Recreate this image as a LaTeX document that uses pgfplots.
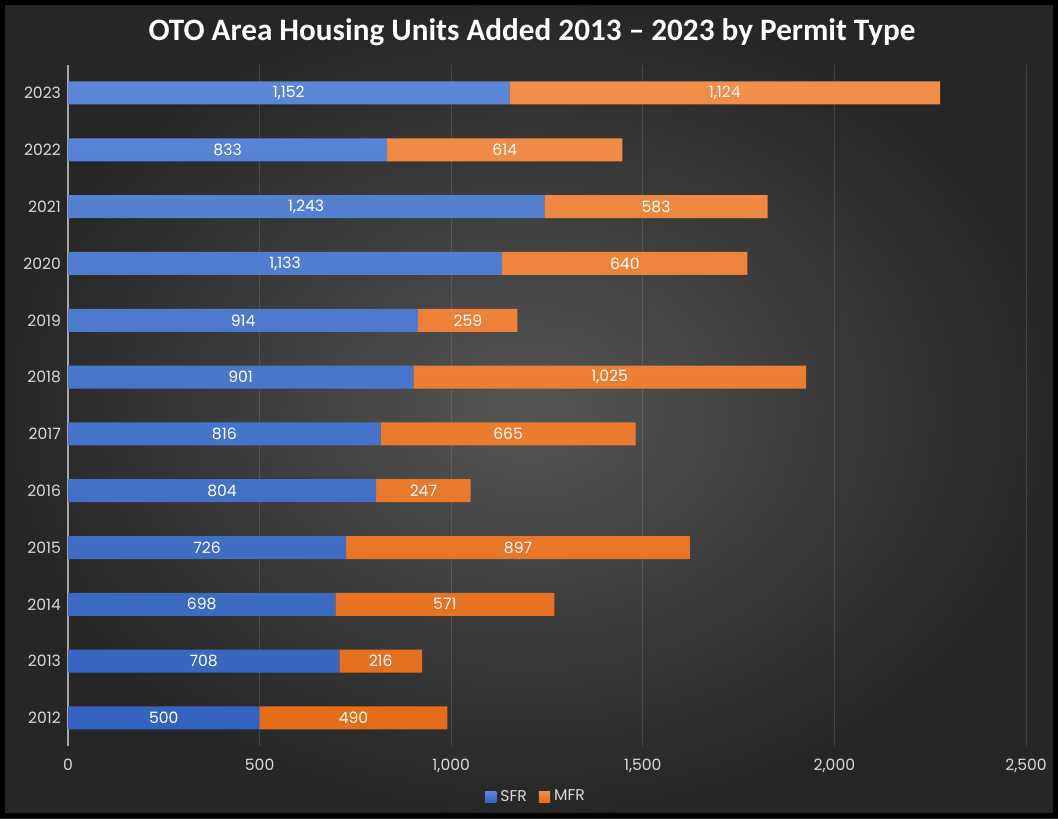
\documentclass[border=0pt]{standalone}
\usepackage{pgfplots}
\pgfplotsset{compat=1.18}
\usepackage{fontspec}
\setmainfont{Poppins}
\newfontfamily\titlefont{Carlito}
\definecolor{sfrtop}{HTML}{5B87D6}
\definecolor{sfrbot}{HTML}{3463BF}
\definecolor{mfrtop}{HTML}{F28E4A}
\definecolor{mfrbot}{HTML}{E56C18}
\definecolor{bgin}{HTML}{555555}
\definecolor{bgout}{HTML}{262626}
\definecolor{lbl}{HTML}{D9D9D9}
\begin{document}
\begin{tikzpicture}[x=1pt,y=1pt]
\shade[inner color=bgin, outer color=bgout] (0,0) rectangle (529,409);
\draw[black, line width=2.5pt] (1.25,1.25) rectangle (527.75,407.75);
\node[font=\titlefont\bfseries\fontsize{15.6}{18}\selectfont, text=white] at (266,393) {OTO Area Housing Units Added 2013 – 2023 by Permit Type};
\begin{axis}[
  at={(34pt,35.8pt)}, anchor=south west,
  scale only axis, width=479pt, height=340.9pt,
  xbar stacked, bar width=11.5pt,
  xmin=0, xmax=2500, ymin=-0.5, ymax=11.5,
  ytick={0,...,11},
  yticklabels={2012,2013,2014,2015,2016,2017,2018,2019,2020,2021,2022,2023},
  xtick={0,500,1000,1500,2000,2500},
  /pgf/number format/.cd, 1000 sep={,}, assume math mode=true, fixed, precision=0,
  /pgfplots/.cd,
  xmajorgrids, grid style={white, opacity=0.12, line width=0.4pt},
  axis y line*=left, axis x line*=bottom,
  x axis line style={draw=none},
  y axis line style={color=gray!70, line width=0.6pt, -},
  major tick length=0pt,
  ticklabel style={text=lbl, font=\fontsize{7.8}{9}\selectfont},
  xticklabel style={yshift=-3pt},
  visualization depends on=rawx \as \rawx,
  nodes near coords={\pgfmathprintnumber{\rawx}},
  nodes near coords align={center},
  every node near coord/.append style={anchor=center, text=white, font=\fontsize{7.8}{9}\selectfont},
  legend columns=2,
  legend style={at={(0.4896,-0.0742)}, anchor=center, draw=none, fill=none, text=lbl, font=\fontsize{7.8}{9}\selectfont, /tikz/every even column/.append style={column sep=4pt}},
  legend image code/.code={\fill[#1] (0pt,-2.8pt) rectangle (5.6pt,2.8pt);},
]
\addplot[draw=none, top color=sfrtop, bottom color=sfrbot] coordinates {
(500,0) (708,1) (698,2) (726,3) (804,4) (816,5) (901,6) (914,7) (1133,8) (1243,9) (833,10) (1152,11)};
\addplot[draw=none, top color=mfrtop, bottom color=mfrbot] coordinates {
(490,0) (216,1) (571,2) (897,3) (247,4) (665,5) (1025,6) (259,7) (640,8) (583,9) (614,10) (1124,11)};
\legend{SFR,MFR}
\end{axis}
\end{tikzpicture}
\end{document}
